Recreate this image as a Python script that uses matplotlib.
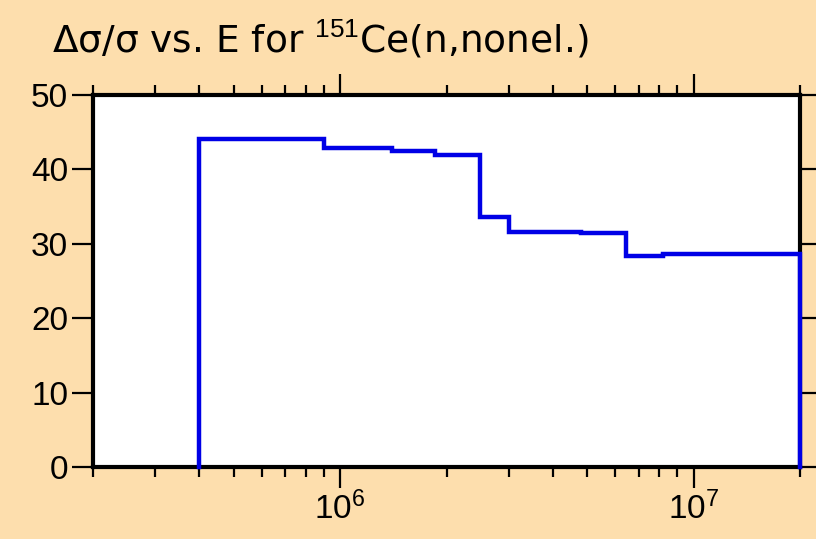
import matplotlib
matplotlib.use("Agg")
import matplotlib.pyplot as plt
import numpy as np
from matplotlib.ticker import LogLocator, NullFormatter

# Step edges (eV) and relative uncertainty (%) per group
edges = [4.0e5, 9.0e5, 1.4e6, 1.85e6, 2.48e6, 3.0e6, 4.8e6, 6.45e6, 8.2e6, 2.0e7]
values = [44.1, 42.9, 42.5, 42.0, 33.6, 31.6, 31.4, 28.3, 28.6]
yticks = [0, 10, 20, 30, 40, 50]

bg = "#FDDEAD"
plt.rcParams["font.family"] = ["Liberation Sans", "DejaVu Sans"]
plt.rcParams["mathtext.fontset"] = "custom"
plt.rcParams["mathtext.rm"] = "Liberation Sans"
plt.rcParams["mathtext.it"] = "Liberation Sans:italic"

fig = plt.figure(figsize=(8.16, 5.39), dpi=100, facecolor=bg)
ax = fig.add_axes([93 / 816, 1 - 467 / 539, 707 / 816, 372 / 539])
ax.set_facecolor("white")

# step outline that drops to zero at both ends
xs = [edges[0]]
ys = [0]
for i, v in enumerate(values):
    xs += [edges[i], edges[i + 1]]
    ys += [v, v]
xs.append(edges[-1])
ys.append(0)
ax.plot(xs, ys, color="#0000E6", lw=3.2, solid_joinstyle="miter", clip_on=False, zorder=3)

ax.set_xscale("log")
ax.set_xlim(2.0e5, 2.0e7)
ax.set_ylim(0, 50)
ax.set_yticks(yticks)
ax.xaxis.set_major_locator(LogLocator(base=10, numticks=10))
ax.xaxis.set_minor_locator(LogLocator(base=10, subs=np.arange(2, 10), numticks=20))
ax.xaxis.set_minor_formatter(NullFormatter())

for s in ax.spines.values():
    s.set_linewidth(3.0)

ax.tick_params(axis="both", which="major", direction="out", length=15, width=1.6,
               labelsize=24, top=True, right=True, pad=3)
ax.tick_params(axis="x", which="minor", direction="out", length=7.5, width=1.6,
               top=True)

fig.text(52 / 816, 1 - 53 / 539, "Δσ/σ vs. E for $^{151}$Ce(n,nonel.)",
         fontsize=27, family="DejaVu Sans", ha="left", va="baseline")

fig.savefig("out.png", dpi=100, facecolor=bg)
